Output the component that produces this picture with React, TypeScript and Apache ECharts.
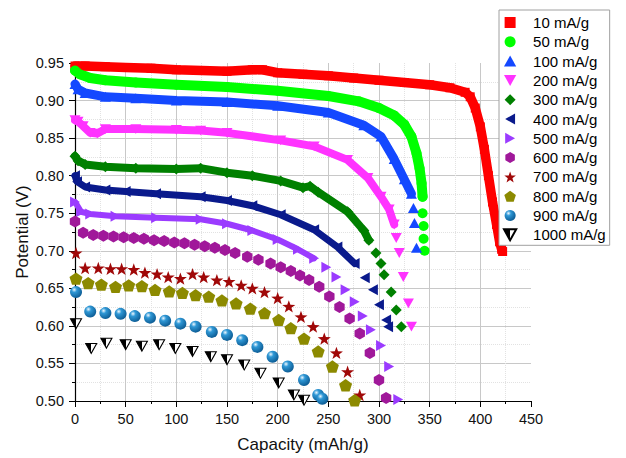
import React, { useEffect, useRef } from 'react';
import * as echarts from 'echarts';

// ---------- data (capacity mAh/g, potential V) ----------
const rates = ['10 mA/g', '50 mA/g', '100 mA/g', '200 mA/g', '300 mA/g', '400 mA/g', '500 mA/g', '600 mA/g', '700 mA/g', '800 mA/g', '900 mA/g', '1000 mA/g'];

const band10 = [[0, 0.946], [10, 0.946], [30, 0.945], [50, 0.944], [75, 0.943], [100, 0.941], [125, 0.940], [150, 0.939], [175, 0.941], [185, 0.941], [200, 0.937], [225, 0.935], [250, 0.933], [275, 0.930], [300, 0.927], [325, 0.924], [350, 0.921], [370, 0.917], [385, 0.911], [390, 0.905], [395, 0.890], [400, 0.865], [404, 0.835], [408, 0.800], [412, 0.765], [416, 0.735], [419, 0.712], [421, 0.702]];
const tail10 = [[422, 0.699]];

const band50 = [[0, 0.940], [5, 0.935], [15, 0.930], [30, 0.927], [60, 0.924], [100, 0.921], [150, 0.918], [200, 0.913], [250, 0.906], [280, 0.899], [300, 0.890], [315, 0.880], [325, 0.868], [332, 0.852], [337, 0.830], [340, 0.810], [342, 0.790], [343, 0.772]];
const tail50 = [[343, 0.750], [344, 0.733], [344, 0.716], [345, 0.700]];

const band100 = [[0, 0.922], [3, 0.915], [10, 0.910], [30, 0.905], [60, 0.903], [100, 0.900], [150, 0.898], [200, 0.893], [250, 0.884], [285, 0.867], [302, 0.852], [315, 0.822], [325, 0.795], [332, 0.776]];
const tail100 = [[334, 0.757], [335, 0.737], [337, 0.704]];

const band200 = [[0, 0.874], [3, 0.872], [8, 0.866], [15, 0.857], [22, 0.856], [30, 0.862], [60, 0.862], [100, 0.861], [124, 0.860], [150, 0.857], [203, 0.847], [236, 0.839], [269, 0.821], [289, 0.797], [302, 0.772], [310, 0.755], [315, 0.735]];
const tail200 = [[317, 0.717], [320, 0.697], [324, 0.665], [329, 0.630], [332, 0.599]];

const band300 = [[0, 0.826], [3, 0.820], [10, 0.815], [30, 0.812], [60, 0.810], [100, 0.809], [124, 0.810], [150, 0.804], [175, 0.800], [203, 0.793], [225, 0.784], [232, 0.786], [240, 0.778], [269, 0.752], [285, 0.727], [290, 0.714]];
const tail300 = [[297, 0.697], [302, 0.683], [305, 0.668], [312, 0.645], [317, 0.621], [322, 0.599]];

const band400 = [[0, 0.800], [2, 0.792], [10, 0.785], [30, 0.781], [50, 0.779], [80, 0.776], [124, 0.772], [150, 0.767], [175, 0.760], [203, 0.748], [236, 0.728], [259, 0.705], [276, 0.683]];
const tail400 = [[286, 0.664], [294, 0.648], [300, 0.628], [307, 0.608], [309, 0.599]];

const band500 = [[0, 0.765], [6, 0.752], [15, 0.749], [40, 0.746], [80, 0.744], [124, 0.742], [150, 0.736], [175, 0.727], [200, 0.715], [220, 0.702], [236, 0.690]];
const tail500 = [[248, 0.678], [258, 0.665], [267, 0.648], [276, 0.632], [284, 0.613], [292, 0.595], [302, 0.574], [310, 0.546], [319, 0.502]];

const pts600 = [[0, 0.739], [8, 0.724], [18, 0.721], [28, 0.720], [38, 0.719], [48, 0.718], [58, 0.717], [68, 0.716], [78, 0.714], [88, 0.713], [98, 0.711], [108, 0.710], [118, 0.708], [128, 0.706], [138, 0.704], [148, 0.701], [158, 0.697], [170, 0.692], [181, 0.688], [193, 0.683], [203, 0.678], [213, 0.673], [222, 0.667], [231, 0.661], [241, 0.652], [251, 0.639], [261, 0.625], [271, 0.610], [281, 0.590], [291, 0.564], [300, 0.528], [307, 0.504]];

const pts700 = [[1, 0.697], [10, 0.677], [23, 0.677], [35, 0.676], [46, 0.676], [58, 0.675], [69, 0.671], [81, 0.669], [92, 0.665], [104, 0.663], [116, 0.669], [127, 0.665], [140, 0.661], [152, 0.659], [164, 0.654], [175, 0.650], [187, 0.645], [200, 0.637], [211, 0.626], [223, 0.612], [235, 0.599], [246, 0.583], [258, 0.564], [269, 0.539], [281, 0.508]];

const pts800 = [[1, 0.663], [13, 0.657], [26, 0.655], [40, 0.652], [53, 0.654], [66, 0.653], [79, 0.648], [93, 0.646], [106, 0.644], [119, 0.641], [132, 0.639], [145, 0.634], [159, 0.630], [173, 0.623], [187, 0.617], [201, 0.608], [213, 0.597], [226, 0.583], [240, 0.566], [254, 0.546], [267, 0.521], [276, 0.501]];

const pts900 = [[1, 0.645], [15, 0.619], [30, 0.617], [45, 0.616], [59, 0.613], [74, 0.611], [89, 0.607], [104, 0.603], [119, 0.599], [135, 0.592], [150, 0.588], [165, 0.581], [180, 0.572], [195, 0.559], [210, 0.546], [226, 0.528], [240, 0.508], [244, 0.503]];

const pts1000 = [[1, 0.603], [16, 0.570], [31, 0.577], [50, 0.575], [66, 0.573], [83, 0.575], [99, 0.570], [116, 0.566], [134, 0.559], [150, 0.555], [167, 0.548], [183, 0.537], [201, 0.524], [216, 0.508], [226, 0.501]];

const xTicks = { min: 0, max: 450, step: 50 };
const yTicks = { min: 0.5, max: 0.95, step: 0.05 };

// ---------- symbol shapes ----------
function polyPath(n: number, rot: number, rOut: number, rIn?: number) {
  const pts: string[] = [];
  const m = rIn ? n * 2 : n;
  for (let k = 0; k < m; k++) {
    const a = ((rot + (360 / m) * k) * Math.PI) / 180;
    const r = rIn && k % 2 === 1 ? rIn : rOut;
    pts.push(`${(10 + r * Math.cos(a)).toFixed(3)},${(10 + r * Math.sin(a)).toFixed(3)}`);
  }
  return 'path://M' + pts.join('L') + 'Z';
}
const SYM_SQUARE = 'path://M0,0L10,0L10,10L0,10Z';
const SYM_UP = 'path://M5,0L10,9L0,9Z';
const SYM_DOWN = 'path://M0,0L10,0L5,9Z';
const SYM_LEFT = 'path://M0,5L9,0L9,10Z';
const SYM_RIGHT = 'path://M0,0L9,5L0,10Z';
const SYM_DIAMOND = 'path://M5,0L10,5L5,10L0,5Z';
const SYM_HEX = polyPath(6, -90, 10);
const SYM_STAR = polyPath(5, -90, 10, 4);
const SYM_PENT = polyPath(5, -90, 10);

const FONT = '"Liberation Sans", Arial, Helvetica, sans-serif';

export default function App() {
  const ref = useRef<HTMLDivElement>(null);
  useEffect(() => {
    if (!ref.current) return;
    const chart = echarts.init(ref.current, null, { renderer: 'svg' });
    const sphere = new echarts.graphic.RadialGradient(0.35, 0.3, 0.75, [
      { offset: 0, color: '#eef8ff' },
      { offset: 0.3, color: '#2f98d6' },
      { offset: 1, color: '#0a5890' },
    ]);
    const halfFill = new echarts.graphic.LinearGradient(0, 0, 1, 0, [
      { offset: 0, color: '#000000' },
      { offset: 0.5, color: '#000000' },
      { offset: 0.5, color: '#ffffff' },
      { offset: 1, color: '#ffffff' },
    ]);
    const defs: any[] = [
      { band: band10, pts: tail10, color: '#ff0000', symbol: SYM_SQUARE, size: 9, w: 9.5 },
      { band: band50, pts: tail50, color: '#00ff00', symbol: 'circle', size: 10, w: 10 },
      { band: band100, pts: tail100, color: '#1448ff', symbol: SYM_UP, size: 11, w: 9 },
      { band: band200, pts: tail200, color: '#ff33ff', symbol: SYM_DOWN, size: 11, w: 8 },
      { band: band300, pts: tail300, color: '#008000', symbol: SYM_DIAMOND, size: 11, w: 8 },
      { band: band400, pts: tail400, color: '#0a1a8c', symbol: SYM_LEFT, size: 11, w: 7 },
      { band: band500, pts: tail500, color: '#9b3bff', symbol: SYM_RIGHT, size: 11, w: 6 },
      { band: [], pts: pts600, color: '#a0189a', symbol: SYM_HEX, size: 12, w: 0 },
      { band: [], pts: pts700, color: '#a00808', symbol: SYM_STAR, size: 13, w: 0 },
      { band: [], pts: pts800, color: '#8c8a00', symbol: SYM_PENT, size: 13, w: 0 },
      { band: [], pts: pts900, color: sphere, symbol: 'circle', size: 12, w: 0 },
      { band: [], pts: pts1000, color: halfFill, symbol: SYM_DOWN, size: 11, w: 0, border: '#000000' },
    ];
    const series: any[] = [];
    defs.forEach((d, i) => {
      if (d.band.length) {
        series.push({
          type: 'line',
          name: 'band' + i,
          data: d.band,
          symbol: 'none',
          silent: true,
          lineStyle: { width: d.w, color: d.color, join: 'round', cap: 'round' },
          z: 2,
        });
      }
      series.push({
        type: 'scatter',
        name: rates[i],
        data: [...d.band, ...d.pts],
        symbol: d.symbol,
        symbolSize: d.size,
        symbolKeepAspect: true,
        itemStyle: d.border
          ? { color: d.color, opacity: 1, borderColor: d.border, borderWidth: 1.1 }
          : { color: d.color, opacity: 1 },
        z: 3,
      });
    });
    const axisLabel = { fontFamily: FONT, fontSize: 14.5, color: '#111' };
    chart.setOption({
      animation: false,
      backgroundColor: '#ffffff',
      grid: { left: 75, right: 95, top: 63, bottom: 57, containLabel: false },
      legend: {
        orient: 'vertical',
        left: 499,
        top: 10,
        padding: [5, 4, 3, 4],
        itemGap: 4.3,
        itemWidth: 36,
        itemHeight: 11,
        symbolKeepAspect: true,
        borderColor: '#a0a0a0',
        borderWidth: 1,
        backgroundColor: '#ffffff',
        data: rates,
        textStyle: { fontFamily: FONT, fontSize: 15, color: '#000' },
      },
      xAxis: {
        type: 'value',
        min: xTicks.min,
        max: xTicks.max,
        interval: xTicks.step,
        name: 'Capacity (mAh/g)',
        nameLocation: 'middle',
        nameGap: 35,
        nameMoveOverlap: false,
        nameTextStyle: { fontFamily: FONT, fontSize: 17, color: '#111' },
        axisLine: { show: true, lineStyle: { color: '#000', width: 1.2 } },
        axisTick: { show: true, length: 6, lineStyle: { color: '#000' } },
        minorTick: { show: true, splitNumber: 2, length: 3, lineStyle: { color: '#000' } },
        axisLabel: { ...axisLabel, margin: 10 },
        splitLine: { show: true, showMaxLine: false, showMinLine: false, lineStyle: { color: '#c8c8c8', width: 1 } },
        minorSplitLine: { show: true, lineStyle: { color: '#e2e2e2', type: 'dotted', width: 1 } },
      },
      yAxis: {
        type: 'value',
        min: yTicks.min,
        max: yTicks.max,
        interval: yTicks.step,
        name: 'Potential (V)',
        nameLocation: 'middle',
        nameGap: 44,
        nameMoveOverlap: false,
        nameTextStyle: { fontFamily: FONT, fontSize: 17, color: '#111' },
        axisLine: { show: true, lineStyle: { color: '#000', width: 1.2 } },
        axisTick: { show: true, length: 6, lineStyle: { color: '#000' } },
        minorTick: { show: true, splitNumber: 2, length: 3, lineStyle: { color: '#000' } },
        axisLabel: { ...axisLabel, margin: 11, formatter: (v: number) => v.toFixed(2) },
        splitLine: { show: true, showMaxLine: false, showMinLine: false, lineStyle: { color: '#c8c8c8', width: 1 } },
        minorSplitLine: { show: true, lineStyle: { color: '#e2e2e2', type: 'dotted', width: 1 } },
      },
      series,
    });
    return () => chart.dispose();
  }, []);
  return <div ref={ref} style={{ position: 'fixed', left: 0, top: 0, width: 626, height: 458 }} />;
}
